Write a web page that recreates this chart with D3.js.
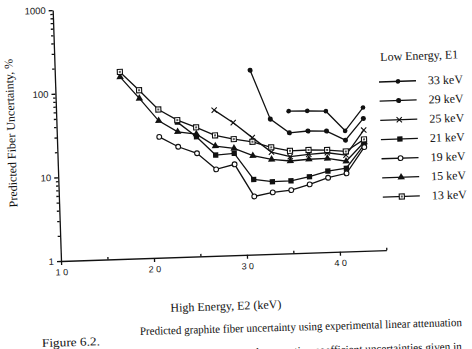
<!DOCTYPE html>
<html>
<head>
<meta charset="utf-8">
<script src="https://cdn.jsdelivr.net/npm/d3@7"></script>
<style>
    body { margin: 0; background: #fff; }
    svg { display: block; }
    .serif { font-family: "Liberation Serif", "DejaVu Serif", serif; fill: #111; }
    .tick text { font-family: "Liberation Sans", Arial, sans-serif; fill: #111; }
</style>
</head>
<body>
<div id="chart"></div>
<script>
// High energy E2 (keV) at which every curve is sampled
const highEnergy = [17, 19, 21, 23, 25, 27, 29, 31, 33, 35, 37, 39, 41, 43];

// Predicted fiber uncertainty (%) for each low energy E1, null = not computed
const series33 = [null, null, null, null, null, null, null, null, null, 50.1, 49.6, 48.4, 27.7, 51.7];
const series29 = [null, null, null, null, null, null, null, 160, 40.9, 27.6, 28.5, 28.0, 21.4, 38.3];
const series25 = [null, null, null, null, null, 55.2, 38.4, 25.0, 16.5, 14.3, 15.0, 15.4, 14.2, 27.8];
const series21 = [null, null, null, 41.0, 26.9, 16.0, 16.5, 7.9, 7.3, 7.35, 8.1, 9.3, 9.9, 18.6];
const series19 = [null, null, 27.8, 20.8, 17.1, 10.8, 12.2, 4.95, 5.45, 5.7, 6.56, 7.74, 8.6, 17.4];
const series15 = [150, 81.5, 43.2, 31.4, 29.0, 20.5, 18.9, 15.2, 13.5, 12.7, 13.1, 13.2, 12.0, 19.9];
const series13 = [172, 102, 59.1, 43.3, 34.9, 27.5, 24.4, 22.3, 18.8, 16.8, 16.9, 16.6, 15.7, 21.5];

// Legend order and labels
const lowEnergy = [33, 29, 25, 21, 19, 15, 13];
const legendLabels = ['33 keV', '29 keV', '25 keV', '21 keV', '19 keV', '15 keV', '13 keV'];

// Axis ticks
const xTicks = [10, 20, 30, 40];
const xMinorTicks = [15, 25, 35, 45];
const yTicks = [1, 10, 100, 1000];

const seriesByEnergy = {
    33: series33, 29: series29, 25: series25, 21: series21,
    19: series19, 15: series15, 13: series13
};

// Marker style per low energy
const markers = {
    33: { type: d3.symbolCircle, size: 17, fill: '#111', stroke: 'none' },
    29: { type: d3.symbolCircle, size: 20, fill: '#111', stroke: 'none' },
    25: { type: d3.symbolTimes || d3.symbolX, size: 20, fill: 'none', stroke: '#111' },
    21: { type: d3.symbolSquare, size: 28, fill: '#111', stroke: 'none' },
    19: { type: d3.symbolCircle, size: 18, fill: '#fff', stroke: '#111' },
    15: { type: d3.symbolTriangle, size: 24, fill: '#111', stroke: 'none' },
    13: { type: d3.symbolSquare, size: 26, fill: '#fff', stroke: '#111', dot: true }
};

const width = 472, height = 349;
const tilt = -1.9; // the scanned page is slightly rotated

const svg = d3.select('#chart')
    .append('svg')
    .attr('width', width)
    .attr('height', height);

// Plot area, origin at (E2 = 10, value = 1)
const plot = svg.append('g')
    .attr('transform', `translate(61,261) rotate(${tilt})`);

const x = d3.scaleLinear().domain([10, 45]).range([0, 325.5]);
const y = d3.scaleLog().domain([1, 1000]).range([0, -251]);

// X axis
const xAxis = plot.append('g')
    .call(d3.axisBottom(x)
        .tickValues(xTicks)
        .tickSize(4)
        .tickSizeOuter(0)
        .tickPadding(4)
        .tickFormat(d3.format('d')));
xAxis.selectAll('text')
    .style('font-size', '9px')
    .attr('letter-spacing', 2.4)
    .attr('dx', 1.2);

plot.append('g')
    .call(d3.axisTop(x).tickValues(xMinorTicks).tickSize(2.5).tickFormat(''))
    .select('.domain').remove();

// Y axis
const yAxis = plot.append('g')
    .call(d3.axisLeft(y)
        .tickValues(yTicks)
        .tickSize(4)
        .tickSizeOuter(0)
        .tickPadding(3)
        .tickFormat(d3.format('d')));
yAxis.selectAll('text')
    .style('font-size', '9.5px');

plot.append('g')
    .call(d3.axisLeft(y)
        .tickValues(y.ticks().filter(v => !yTicks.includes(v)))
        .tickSize(2.5)
        .tickFormat(''))
    .select('.domain').remove();

plot.selectAll('.domain, .tick line')
    .attr('stroke', '#111')
    .attr('stroke-width', 1.3);

// Curves
const line = d3.line()
    .defined(d => d.v != null)
    .x(d => x(d.e2))
    .y(d => y(d.v));

const curves = lowEnergy.map(e1 => ({
    e1,
    points: highEnergy.map((e2, i) => ({ e2, v: seriesByEnergy[e1][i] }))
}));

plot.selectAll('.curve')
    .data(curves)
    .enter()
    .append('path')
    .attr('class', 'curve')
    .attr('fill', 'none')
    .attr('stroke', '#111')
    .attr('stroke-width', 1.3)
    .attr('d', d => line(d.points));

function drawMarker(sel, e1) {
    const m = markers[e1];
    sel.append('path')
        .attr('d', d3.symbol().type(m.type).size(m.size)())
        .attr('fill', m.fill)
        .attr('stroke', m.stroke)
        .attr('stroke-width', 1.1);
    if (m.dot) {
        sel.append('rect')
            .attr('x', -1).attr('y', -1)
            .attr('width', 2).attr('height', 2)
            .attr('fill', '#555');
    }
}

curves.forEach(c => {
    plot.selectAll(null)
        .data(c.points.filter(p => p.v != null))
        .enter()
        .append('g')
        .attr('transform', p => `translate(${x(p.e2)},${y(p.v)})`)
        .each(function () { drawMarker(d3.select(this), c.e1); });
});

// Axis titles
svg.append('text')
    .attr('class', 'serif')
    .attr('transform', `translate(15,133) rotate(${-90 + tilt})`)
    .attr('text-anchor', 'middle')
    .style('font-size', '12px')
    .text('Predicted Fiber Uncertainty, %');

svg.append('text')
    .attr('class', 'serif')
    .attr('transform', `translate(226,310) rotate(${tilt})`)
    .attr('text-anchor', 'middle')
    .style('font-size', '12px')
    .text('High Energy, E2 (keV)');

// Legend
const legend = svg.append('g')
    .attr('transform', `translate(379,82) rotate(${tilt})`);

legend.append('text')
    .attr('class', 'serif')
    .attr('x', 2)
    .attr('y', -21)
    .style('font-size', '12px')
    .text('Low Energy, E1');

lowEnergy.forEach((e1, i) => {
    const row = legend.append('g')
        .attr('transform', `translate(0, ${i * 19.2})`);

    row.append('line')
        .attr('x1', 0).attr('x2', 37)
        .attr('stroke', '#111')
        .attr('stroke-width', 1.3);

    drawMarker(row.append('g').attr('transform', 'translate(19,0)'), e1);

    row.append('text')
        .attr('class', 'serif')
        .attr('x', 49)
        .attr('y', 4)
        .style('font-size', '12px')
        .text(legendLabels[i]);
});

// Figure caption (bottom of the page, partly cut off)
svg.append('text')
    .attr('class', 'serif')
    .attr('transform', 'translate(42,347) rotate(-1.7)')
    .attr('textLength', 58)
    .attr('lengthAdjust', 'spacingAndGlyphs')
    .style('font-size', '12px')
    .text('Figure 6.2.');

svg.append('text')
    .attr('class', 'serif')
    .attr('transform', 'translate(140,335) rotate(-1.6)')
    .attr('textLength', 322)
    .attr('lengthAdjust', 'spacingAndGlyphs')
    .style('font-size', '11.5px')
    .text('Predicted graphite fiber uncertainty using experimental linear attenuation');

svg.append('text')
    .attr('class', 'serif')
    .attr('transform', 'translate(127,359.5) rotate(-1.6)')
    .attr('textLength', 335)
    .attr('lengthAdjust', 'spacingAndGlyphs')
    .style('font-size', '11.5px')
    .text('coefficients and experimental attenuation coefficient uncertainties given in');
</script>
</body>
</html>
